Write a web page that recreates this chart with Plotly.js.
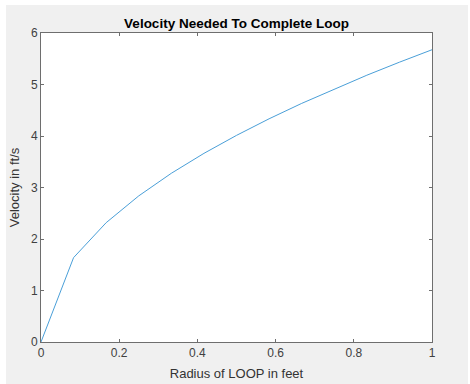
<!DOCTYPE html>
<html><head><meta charset="utf-8">
<script src="https://cdn.plot.ly/plotly-3.0.1.min.js"></script>
<style>
html,body{margin:0;padding:0;background:#ffffff;width:470px;height:384px;overflow:hidden;}
#chart{position:absolute;left:6px;top:5px;width:462px;height:379px;}
</style></head>
<body><div id="chart"></div>
<script>
const radius = [0, 0.0833, 0.1667, 0.25, 0.3333, 0.4167, 0.5, 0.5833, 0.6667, 0.75, 0.8333, 0.9167, 1];
const velocity = [0, 1.638, 2.317, 2.837, 3.276, 3.663, 4.012, 4.334, 4.633, 4.914, 5.180, 5.433, 5.675];
const xTicks = [0, 0.2, 0.4, 0.6, 0.8, 1];
const yTicks = [0, 1, 2, 3, 4, 5, 6];

const axisCommon = {
  showgrid: false, zeroline: false, showline: true, mirror: 'ticks',
  linecolor: '#6e6e6e', linewidth: 1, ticks: 'inside', ticklen: 3, tickwidth: 1,
  tickcolor: '#6e6e6e', tickfont: {family: 'Liberation Sans, Arial, sans-serif', size: 12, color: '#404040'}
};

Plotly.newPlot('chart', [{
  x: radius, y: velocity, type: 'scatter', mode: 'lines',
  line: {color: '#4a9fd8', width: 1}
}], {
  width: 462, height: 379,
  paper_bgcolor: '#f0f0f0', plot_bgcolor: '#ffffff',
  margin: {l: 34.5, r: 35.5, t: 27.5, b: 42},
  showlegend: false,
  title: {text: 'Velocity Needed To Complete Loop', x: 0.5, xanchor: 'center', xref: 'paper', y: 1, yref: 'paper', yanchor: 'bottom', pad: {b: 5},
    font: {family: 'Liberation Sans, Arial, sans-serif', size: 13.5, color: '#000000', weight: 'bold'}},
  xaxis: Object.assign({}, axisCommon, {range: [0, 1], tickvals: xTicks, ticktext: xTicks.map(String),
    title: {text: 'Radius of LOOP in feet', standoff: 9, font: {family: 'Liberation Sans, Arial, sans-serif', size: 13, color: '#333333'}}}),
  yaxis: Object.assign({}, axisCommon, {range: [0, 6], tickvals: yTicks, ticktext: yTicks.map(String),
    title: {text: 'Velocity in ft/s', standoff: 8, font: {family: 'Liberation Sans, Arial, sans-serif', size: 13, color: '#333333'}}})
}, {displayModeBar: false, staticPlot: true});
</script></body></html>
